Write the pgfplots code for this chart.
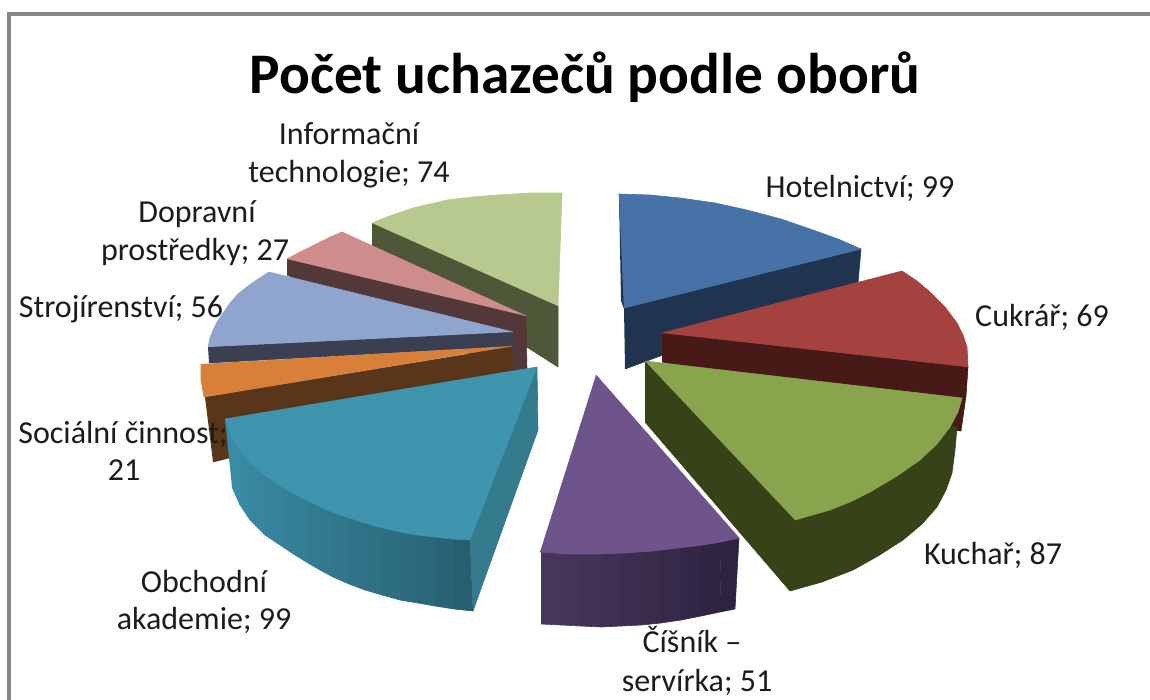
\documentclass[border=0pt]{standalone}
\usepackage{fontspec}
\setmainfont{Carlito}
\usepackage{pgfplots}
\pgfplotsset{compat=1.18}
\definecolor{frm}{HTML}{868686}
\definecolor{txt}{HTML}{1C1C1C}
\definecolor{tealA}{HTML}{3A8BA4}
\definecolor{tealB}{HTML}{275F70}
\definecolor{purA}{HTML}{483659}
\definecolor{purB}{HTML}{2C2340}
\definecolor{HTMLa}{HTML}{4E5738}
\definecolor{HTMLb}{HTML}{B7C98F}
\definecolor{HTMLc}{HTML}{53383A}
\definecolor{HTMLd}{HTML}{CE8D8C}
\definecolor{HTMLe}{HTML}{3A3F52}
\definecolor{HTMLf}{HTML}{8FA5CE}
\definecolor{HTMLg}{HTML}{593619}
\definecolor{HTMLh}{HTML}{D88038}
\definecolor{HTMLi}{HTML}{347B8E}
\definecolor{HTMLj}{HTML}{3F94AE}
\definecolor{HTMLk}{HTML}{20344F}
\definecolor{HTMLl}{HTML}{4672A8}
\definecolor{HTMLm}{HTML}{471A18}
\definecolor{HTMLn}{HTML}{A54240}
\definecolor{HTMLo}{HTML}{384219}
\definecolor{HTMLp}{HTML}{88A44D}
\definecolor{HTMLq}{HTML}{6F548B}
\newcommand{\pg}[2]{\addplot[fill={#1},draw={#1},line width=0.3pt,line join=round,mark=none] coordinates {#2};}
\newcommand{\lb}[3]{\node[text=txt,font=\fontsize{16}{18}\selectfont,anchor=base,inner sep=0pt] at (axis cs:#1,#2) {#3};}
\begin{document}
\begin{tikzpicture}
\useasboundingbox (0,0) rectangle (575pt,350pt);
\begin{axis}[at={(0,0)},anchor=south west,scale only axis,width=575pt,height=350pt,
  xmin=0,xmax=1150,ymin=0,ymax=700,y dir=reverse,hide axis,clip=false]
% frame
\addplot[draw=frm,line width=1.6pt,mark=none] coordinates {(9,700) (9,14) (1150,14)};
% Informacni technologie
\pg{HTMLa}{(372,223)(558,306)(558,367)(372,248)}
\pg{HTMLb}{(372,223)(392,215)(413,208)(430,204)(447,200)(472,197)(497,195)(530,193)(562,193)(558,306)}
% Dopravni prostredky
\pg{HTMLc}{(287,259)(526,316)(527,370)(510,372)(287,275)}
\pg{HTMLd}{(287,259)(300,252)(314,245)(328,238)(342,232)(526,316)}
% Strojirenstvi
\pg{HTMLe}{(208,347)(513,332)(513,346)(209,363)}
\pg{HTMLf}{(208,347)(210,338)(213,330)(217,322)(221,316)(230,303)(238,294)(248,286)(258,279)(269,272)(513,332)}
% Socialni cinnost
\pg{HTMLg}{(205,397)(512,347)(512,375)(229,458)(213,462)}
\pg{HTMLh}{(201,364)(201,380)(204,397)(512,346)}
% Obchodni akademie
\pg{tealA!100!tealB}{(225,419)(240,448)(240,505)(232,487)}
\pg{tealA!94!tealB}{(240,448)(250,460)(250,520)(240,505)}
\pg{tealA!88!tealB}{(250,460)(265,472)(265,535)(250,520)}
\pg{tealA!82!tealB}{(265,472)(283,485)(283,547)(265,535)}
\pg{tealA!76!tealB}{(283,485)(295,492)(295,555)(283,547)}
\pg{tealA!70!tealB}{(295,492)(308,499)(308,563)(295,555)}
\pg{tealA!64!tealB}{(308,499)(320,505)(320,570)(308,563)}
\pg{tealA!58!tealB}{(320,505)(333,510)(333,577)(320,570)}
\pg{tealA!52!tealB}{(333,510)(349,516)(349,584)(333,577)}
\pg{tealA!46!tealB}{(349,516)(365,521)(365,590)(349,584)}
\pg{tealA!40!tealB}{(365,521)(382,526)(382,595)(365,590)}
\pg{tealA!34!tealB}{(382,526)(400,530)(400,600)(382,595)}
\pg{tealA!27!tealB}{(400,530)(418,533)(418,603)(400,600)}
\pg{tealA!20!tealB}{(418,533)(435,535)(435,606)(418,603)}
\pg{tealA!10!tealB}{(435,535)(454,537)(454,609)(435,606)}
\pg{tealB}{(454,537)(470,539)(473,611)(454,609)}
\pg{HTMLi}{(470,540)(537,367)(538,430)(473,611)}
\pg{HTMLj}{(225,419)(537,367)(470,540)(452,539)(435,537)(417,535)(400,532)(387,529)(375,526)(362,522)(350,518)(337,514)(325,509)(312,503)(300,497)(287,490)(275,482)(262,473)(250,462)(241,452)(233,440)(229,430)}
% Hotelnictvi
\pg{HTMLk}{(624,308)(861,249)(858,283)(625,369)}
\pg{HTMLk}{(619,194)(624,308)(621,300)}
\pg{HTMLl}{(619,194)(650,195)(680,198)(715,203)(747,210)(781,219)(813,230)(838,239)(861,249)(624,308)}
% Cukrar
\pg{HTMLm}{(662,333)(968,367)(966,396)(961,431)(950,430)(662,362)}
\pg{HTMLn}{(662,333)(902,271)(917,281)(930,292)(945,307)(957,323)(963,335)(967,347)(968,367)}
% Kuchar
\pg{HTMLo}{(645,361)(795,520)(830,510)(870,492)(920,460)(950,427)(957,427)(955,450)(952,473)(946,490)(937,507)(922,524)(903,540)(878,556)(853,570)(822,582)(790,591)(645,422)}
\pg{HTMLp}{(645,361)(962,398)(958,412)(950,427)(937,444)(920,460)(897,476)(870,492)(850,502)(830,510)(795,520)}
% Cisnik
\pg{purA!100!purB}{(541,551)(561,552)(561,625)(541,624)}
\pg{purA!89!purB}{(561,552)(581,553)(581,626)(561,625)}
\pg{purA!78!purB}{(581,553)(601,553)(601,627)(581,626)}
\pg{purA!67!purB}{(601,553)(621,552)(621,626)(601,627)}
\pg{purA!56!purB}{(621,552)(641,551)(641,625)(621,626)}
\pg{purA!45!purB}{(641,551)(661,549)(661,623)(641,625)}
\pg{purA!34!purB}{(661,549)(681,547)(681,620)(661,623)}
\pg{purA!23!purB}{(681,547)(701,544)(701,616)(681,620)}
\pg{purA!12!purB}{(701,544)(721,541)(720,612)(701,616)}
\pg{purA!3!purB}{(721,541)(739,538)(735,609)(720,612)}
\pg{HTMLq}{(596,375)(739,538)(721,542)(703,545)(678,548)(653,551)(625,553)(596,554)(568,554)(540,552)}
% labels
\node[text=black,font=\fontsize{28.7}{32}\bfseries\selectfont,anchor=base,inner sep=0pt] at (axis cs:585,94) {Počet uchazečů podle oborů};
\lb{349}{145}{Informační}
\lb{349}{183}{technologie; 74}
\lb{197}{223}{Dopravní}
\lb{195}{261}{prostředky; 27}
\lb{121}{317}{Strojírenství; 56}
\lb{123}{443}{Sociální činnost;}
\lb{124}{480}{21}
\lb{204}{592}{Obchodní}
\lb{204}{629}{akademie; 99}
\lb{692}{652}{Číšník --}
\lb{697}{691}{servírka; 51}
\lb{993}{564}{Kuchař; 87}
\lb{1042}{326}{Cukrář; 69}
\lb{860}{198}{Hotelnictví; 99}
\end{axis}
\end{tikzpicture}
\end{document}
